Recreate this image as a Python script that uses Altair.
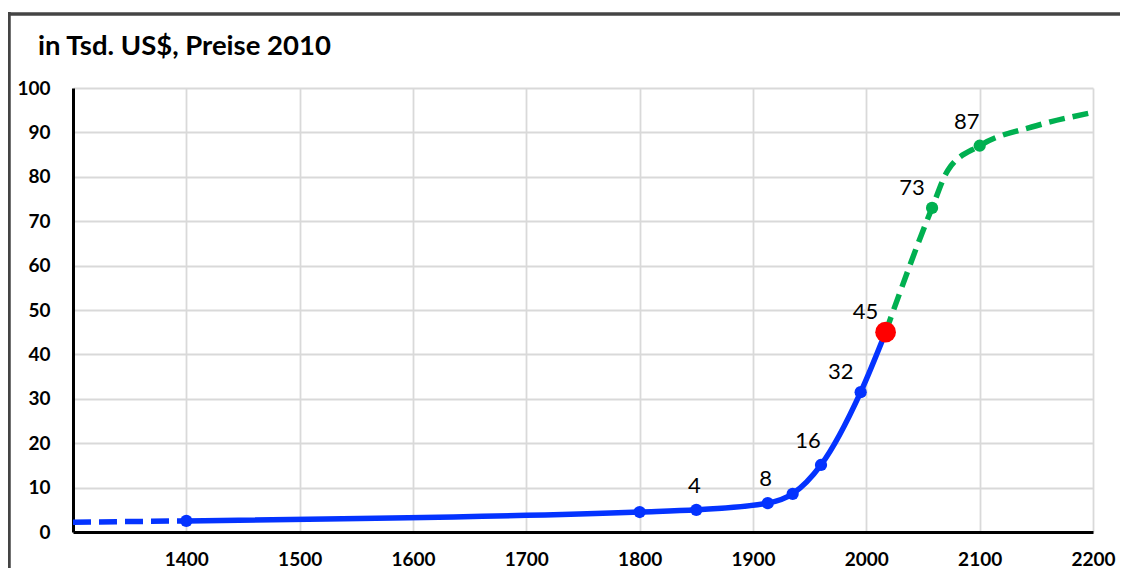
import altair as alt
import pandas as pd

# ---------------- data ----------------
# early extrapolation (blue dashed)
early_years = [1300, 1400]
early_values = [2.2, 2.5]
# historical series (blue, with markers)
hist_years = [1400, 1800, 1850, 1913, 1935, 1960, 1995, 2017]
hist_values = [2.5, 4.5, 5.0, 6.5, 8.6, 15.1, 31.5, 45.0]
# projection (green dashed)
proj_years = [2017, 2058, 2072, 2100, 2150, 2200]
proj_values = [45.0, 73.0, 81.5, 87.0, 91.5, 94.5]
proj_marker_years = [2058, 2100]
proj_marker_values = [73.0, 87.0]
# current value (red)
now_years = [2017]
now_values = [45.0]
# data labels
label_years = [1850, 1913, 1960, 1995, 2017, 2058, 2100]
label_values = [5.0, 6.5, 15.1, 31.5, 45.0, 73.0, 87.0]
label_texts = ["4", "8", "16", "32", "45", "73", "87"]
# axes
x_ticks = [1400, 1500, 1600, 1700, 1800, 1900, 2000, 2100, 2200]
y_ticks = [0, 10, 20, 30, 40, 50, 60, 70, 80, 90, 100]
title_text = "in Tsd. US$, Preise 2010"

BLUE = "#0433FF"
GREEN = "#00B050"
RED = "#FF0000"
FONT = "Lato"

early_df = pd.DataFrame({"year": early_years, "value": early_values})
hist_df = pd.DataFrame({"year": hist_years, "value": hist_values})
proj_df = pd.DataFrame({"year": proj_years, "value": proj_values})
projm_df = pd.DataFrame({"year": proj_marker_years, "value": proj_marker_values})
now_df = pd.DataFrame({"year": now_years, "value": now_values})
lab_df = pd.DataFrame({"year": label_years, "value": label_values, "label": label_texts})
title_df = pd.DataFrame({"t": [title_text]})

x_enc = alt.X("year:Q", title="",
              scale=alt.Scale(domain=[1300, 2200], nice=False, zero=False),
              axis=alt.Axis(values=x_ticks, format="d", labelPadding=18,
                            labelFlush=False))
y_enc = alt.Y("value:Q", title="",
              scale=alt.Scale(domain=[0, 100], nice=False),
              axis=alt.Axis(values=y_ticks, labelPadding=23, labelFlush=False))

# outer frame of the figure (only top and left edges are inside the picture)
frame_top = alt.Chart(title_df).mark_rule(
    stroke="#444444", strokeWidth=3.5
).encode(x=alt.value(-65), x2=alt.value(1100), y=alt.value(-74))
frame_left = alt.Chart(title_df).mark_rule(
    stroke="#444444", strokeWidth=3.5
).encode(x=alt.value(-64), y=alt.value(-76), y2=alt.value(600))

title = alt.Chart(title_df).mark_text(
    align="left", baseline="alphabetic", font=FONT, fontSize=27.5,
    fontWeight="bold", color="black"
).encode(x=alt.value(-35), y=alt.value(-33), text="t:N")

early = alt.Chart(early_df).mark_line(
    color=BLUE, strokeWidth=5.5, strokeDash=[18, 8]
).encode(x=x_enc, y=y_enc)

hist = alt.Chart(hist_df).mark_line(
    color=BLUE, strokeWidth=5.5, interpolate="monotone"
).encode(x=x_enc, y=y_enc)

hist_pts = alt.Chart(hist_df[hist_df.year < 2017]).mark_point(
    filled=True, opacity=1, color=BLUE, size=150
).encode(x=x_enc, y=y_enc)

proj = alt.Chart(proj_df).mark_line(
    color=GREEN, strokeWidth=5.5, strokeDash=[16, 8], interpolate="monotone"
).encode(x=x_enc, y=y_enc)

proj_pts = alt.Chart(projm_df).mark_point(
    filled=True, opacity=1, color=GREEN, size=150
).encode(x=x_enc, y=y_enc)

now_pt = alt.Chart(now_df).mark_point(
    filled=True, opacity=1, color=RED, size=430
).encode(x=x_enc, y=y_enc)

def labels(years, dx, dy):
    return alt.Chart(lab_df).transform_filter(
        alt.FieldOneOfPredicate(field="year", oneOf=years)
    ).mark_text(
        font=FONT, fontSize=22, color="black", dx=dx, dy=dy,
        align="center", baseline="middle"
    ).encode(x=x_enc, y=y_enc, text="label:N")

lab_above = labels([1850, 1913], -2, -24)
lab_midleft = labels([1960, 2100], -13, -24)
lab_left = labels([1995, 2017, 2058], -20, -20)

chart = alt.layer(
    frame_top, frame_left, title, early, hist, proj, hist_pts, proj_pts, now_pt,
    lab_above, lab_midleft, lab_left
).properties(
    width=1020, height=444,
    autosize=alt.AutoSizeParams(type="none"),
    padding={"left": 65, "top": 80, "right": 27, "bottom": 36},
).configure_view(
    stroke="transparent"
).configure_axis(
    labelFont=FONT, labelFontSize=19, labelFontWeight="bold", labelColor="black",
    gridColor="#d9d9d9", gridWidth=1.8, domainColor="black", domainWidth=3,
    ticks=False
)

chart.save("out.html", embed_options={"renderer": "svg", "actions": False})
